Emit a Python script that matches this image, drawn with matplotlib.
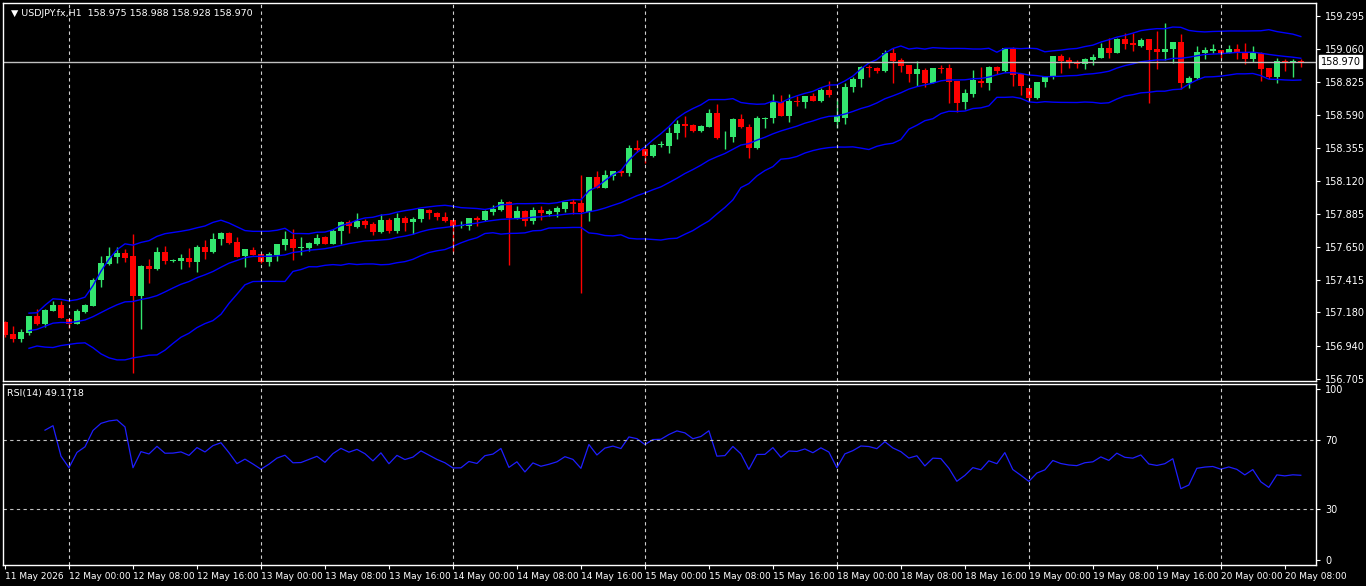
import numpy as np
import pandas as pd
import matplotlib
matplotlib.use("Agg")
import matplotlib.pyplot as plt

# ---------------- DATA ----------------
opens = [157.114,157.026,156.988,157.036,157.154,157.097,157.193,157.233,157.133,157.099,
         157.185,157.228,157.411,157.525,157.575,157.604,157.582,157.299,157.511,157.492,
         157.611,157.549,157.549,157.568,157.540,157.647,157.613,157.701,157.749,157.685,
         157.583,157.625,157.597,157.542,157.590,157.661,157.704,157.642,157.642,157.668,
         157.718,157.668,157.763,157.825,157.792,157.832,157.811,157.756,157.839,157.763,
         157.853,157.825,157.844,157.911,157.887,157.858,157.842,157.799,157.799,157.856,
         157.839,157.899,157.911,157.970,157.856,157.904,157.832,157.911,157.882,157.896,
         157.918,157.970,157.961,157.899,158.146,158.070,158.156,158.191,158.177,158.351,
         158.346,158.298,158.375,158.370,158.458,158.524,158.517,158.477,158.505,158.605,
         158.430,158.434,158.560,158.503,158.356,158.563,158.565,158.684,158.584,158.688,
         158.684,158.724,158.691,158.767,158.541,158.570,158.786,158.843,158.929,158.922,
         158.905,159.029,158.981,158.945,158.883,158.910,158.819,158.921,158.921,158.833,
         158.684,158.738,158.831,158.819,158.931,158.905,159.064,158.883,158.779,158.712,
         158.822,158.862,159.010,158.981,158.964,158.950,158.981,158.998,159.064,159.033,
         159.128,159.100,159.083,159.128,159.057,159.040,159.057,159.107,158.815,158.850,
         159.033,159.048,159.052,159.033,159.057,159.040,158.986,159.033,158.921,158.862,
         158.974,158.969,158.975]
highs = [157.121,157.083,157.059,157.154,157.202,157.204,157.261,157.261,157.133,157.204,
         157.238,157.423,157.582,157.647,157.647,157.630,157.739,157.518,157.559,157.647,
         157.654,157.560,157.597,157.640,157.661,157.697,157.749,157.751,157.755,157.721,
         157.633,157.644,157.600,157.614,157.668,157.761,157.775,157.721,157.685,157.737,
         157.728,157.775,157.835,157.839,157.889,157.846,157.827,157.882,157.851,157.889,
         157.868,157.863,157.916,157.918,157.896,157.894,157.842,157.832,157.851,157.868,
         157.911,157.947,157.989,157.975,157.939,157.911,157.930,157.939,157.918,157.939,
         157.970,157.989,158.161,158.146,158.189,158.196,158.189,158.201,158.375,158.410,
         158.346,158.382,158.400,158.505,158.553,158.584,158.524,158.517,158.629,158.667,
         158.474,158.570,158.596,158.524,158.582,158.577,158.738,158.731,158.736,158.724,
         158.724,158.743,158.779,158.831,158.700,158.815,158.862,158.941,158.945,158.933,
         159.052,159.064,158.993,158.945,158.974,158.922,158.924,158.948,158.950,158.833,
         158.772,158.910,158.929,158.941,158.941,159.069,159.076,158.883,158.779,158.822,
         158.867,159.010,159.024,159.000,158.981,158.998,159.024,159.100,159.136,159.140,
         159.171,159.171,159.136,159.128,159.188,159.243,159.110,159.164,158.869,159.081,
         159.071,159.093,159.055,159.088,159.093,159.100,159.081,159.040,158.926,158.993,
         158.986,158.988,158.988]
lows = [157.007,156.971,156.971,157.019,157.090,157.078,157.193,157.143,157.066,157.099,
        157.178,157.228,157.364,157.518,157.535,157.542,156.750,157.062,157.387,157.483,
        157.525,157.540,157.490,157.506,157.471,157.561,157.606,157.661,157.670,157.578,
        157.507,157.588,157.535,157.511,157.549,157.625,157.554,157.590,157.618,157.661,
        157.668,157.666,157.668,157.744,157.780,157.780,157.732,157.744,157.744,157.749,
        157.763,157.737,157.823,157.844,157.839,157.827,157.614,157.780,157.768,157.799,
        157.835,157.875,157.904,157.518,157.850,157.797,157.811,157.839,157.868,157.863,
        157.899,157.880,157.316,157.835,158.068,158.066,158.125,158.156,158.156,158.327,
        158.244,158.291,158.360,158.320,158.417,158.434,158.470,158.470,158.503,158.417,
        158.344,158.398,158.498,158.284,158.348,158.498,158.529,158.582,158.541,158.655,
        158.636,158.689,158.684,158.719,158.493,158.522,158.755,158.791,158.857,158.886,
        158.898,158.815,158.898,158.826,158.795,158.786,158.815,158.890,158.677,158.608,
        158.631,158.719,158.786,158.767,158.879,158.898,158.795,158.731,158.688,158.705,
        158.791,158.845,158.886,158.926,158.921,158.914,158.945,158.993,158.993,159.029,
        159.057,159.048,159.076,158.672,158.917,158.981,158.957,158.772,158.779,158.845,
        158.985,159.033,158.993,159.033,158.985,158.950,158.969,158.831,158.845,158.815,
        158.905,158.862,158.928]
closes = [157.019,156.988,157.038,157.154,157.097,157.197,157.233,157.143,157.097,157.190,
          157.233,157.411,157.533,157.582,157.604,157.571,157.299,157.511,157.490,157.611,
          157.549,157.551,157.568,157.540,157.647,157.613,157.704,157.749,157.673,157.578,
          157.633,157.590,157.542,157.597,157.668,157.704,157.642,157.645,157.678,157.711,
          157.668,157.761,157.825,157.799,157.832,157.804,157.756,157.839,157.761,157.851,
          157.820,157.846,157.916,157.887,157.858,157.835,157.799,157.800,157.851,157.839,
          157.904,157.918,157.970,157.856,157.904,157.832,157.911,157.887,157.904,157.925,
          157.970,157.954,157.899,158.146,158.070,158.161,158.189,158.172,158.351,158.339,
          158.298,158.375,158.380,158.458,158.524,158.512,158.477,158.510,158.605,158.427,
          158.434,158.560,158.501,158.356,158.565,158.567,158.679,158.584,158.688,158.684,
          158.724,158.691,158.767,158.731,158.581,158.786,158.843,158.929,158.924,158.905,
          159.029,158.974,158.941,158.883,158.914,158.819,158.921,158.917,158.826,158.677,
          158.743,158.838,158.815,158.931,158.902,159.064,158.874,158.798,158.712,158.822,
          158.867,159.010,158.974,158.957,158.950,158.988,159.000,159.064,159.033,159.128,
          159.093,159.086,159.124,159.052,159.040,159.057,159.107,158.815,158.850,159.036,
          159.052,159.059,159.033,159.057,159.036,158.986,159.036,158.919,158.857,158.974,
          158.964,158.974,158.970]

symbol = "USDJPY.fx,H1"
header_ohlc = "158.975 158.988 158.928 158.970"
rsi_label = "RSI(14) 49.1718"
price_ticks = [159.295,159.060,158.825,158.590,158.355,158.120,157.885,157.650,157.415,157.180,156.940,156.705]
rsi_ticks = [100, 70, 30, 0]
first_bar = "2026-05-11 16:00"
last_price = 158.970

# ---------------- PREP ----------------
o = np.array(opens); h = np.array(highs); l = np.array(lows); c = np.array(closes)
n = len(c)
x = np.arange(n)
s = pd.Series(c)
mid = s.rolling(20, min_periods=4).mean()
sd = s.rolling(20, min_periods=4).std(ddof=0)
up = mid + 2 * sd; lo = mid - 2 * sd
d = s.diff()
g = d.clip(lower=0).ewm(alpha=1/14, adjust=True).mean()
ls = (-d.clip(upper=0)).ewm(alpha=1/14, adjust=True).mean()
rsi = 100 - 100 / (1 + g / ls.replace(0, np.nan))
rsi[:5] = np.nan

# timestamps (weekend skipped)
times = []
t = pd.Timestamp(first_bar)
for i in range(n):
    times.append(t)
    t = t + pd.Timedelta(hours=1)
    if t.dayofweek == 5:
        t = t + pd.Timedelta(days=2)

# ---------------- FIGURE ----------------
W, H = 1366, 586
fig = plt.figure(figsize=(W/100, H/100), dpi=100, facecolor="black")
L, R = 3/W, 1316/W
ax = fig.add_axes([L, 1-381/H, R-L, (381-3)/H], facecolor="black")
ax2 = fig.add_axes([L, 1-565/H, R-L, (565-384)/H], facecolor="black")

bull, bear = "#33e66e", "#ff0000"
cols = [bull if cc >= oo else bear for oo, cc in zip(o, c)]
ax.vlines(x, l, h, colors=cols, linewidth=1)
bot = np.minimum(o, c); ht = np.maximum(np.abs(c - o), 0.004)
ax.bar(x, ht, bottom=bot, width=0.7, color=cols, linewidth=0)
ax.plot(x, up, color="#0000ff", lw=1)
ax.plot(x, mid, color="#0000ff", lw=1)
ax.plot(x, lo, color="#0000ff", lw=1)
ax.axhline(last_price, color="#c0c0c0", lw=1)

xmin, xmax = -0.25, 163.9
for a in (ax, ax2):
    a.set_xlim(xmin, xmax)
    for sp in a.spines.values():
        sp.set_color("white"); sp.set_linewidth(1)
    a.tick_params(colors="white", labelsize=7, length=3, direction="out")
    a.yaxis.tick_right()

ax.set_ylim(156.691, 159.388)
ax.set_yticks(price_ticks)
ax.set_yticklabels([f"{p:.3f}" for p in price_ticks], fontsize=7, color="white")
ax.set_xticks([])
ax.text(1.0037, last_price, f"{last_price:.3f}", transform=ax.get_yaxis_transform(),
        fontsize=7, color="black", va="center", ha="left",
        bbox=dict(boxstyle="square,pad=0.15", fc="white", ec="white"))
ax.text(0.006, 0.985, "\u25BC " + symbol + "  " + header_ohlc, transform=ax.transAxes,
        fontsize=6.8, color="white", va="top", ha="left")

ax2.plot(x, rsi, color="#1e1eff", lw=0.9)
ax2.set_ylim(-3, 103)
ax2.set_yticks(rsi_ticks)
ax2.set_yticklabels([str(v) for v in rsi_ticks], fontsize=7, color="white")
for lv in (70, 30):
    ax2.axhline(lv, color="#c0c0c0", lw=0.8, ls=(0, (3, 3)))
ax2.text(0.003, 0.97, rsi_label, transform=ax2.transAxes, fontsize=6.8, color="white", va="top", ha="left")

# vertical day grid
for i, tt in enumerate(times):
    if tt.hour == 0:
        ax.axvline(i, color="#d0d0d0", lw=0.8, ls=(0, (3, 3)))
        ax2.axvline(i, color="#d0d0d0", lw=0.8, ls=(0, (3, 3)))

# date labels
tick_pos = [0] + [i for i, tt in enumerate(times) if tt.hour % 8 == 0 and i > 0]
tick_lab = [times[0].strftime("%-d %b %Y")] + [times[i].strftime("%-d %b %H:%M") for i in tick_pos[1:]]
ax2.set_xticks(tick_pos)
ax2.set_xticklabels(tick_lab, fontsize=6.5, color="white", ha="left")
ax2.tick_params(axis="x", length=3, pad=2)

fig.savefig("out.png", dpi=100, facecolor="black")
